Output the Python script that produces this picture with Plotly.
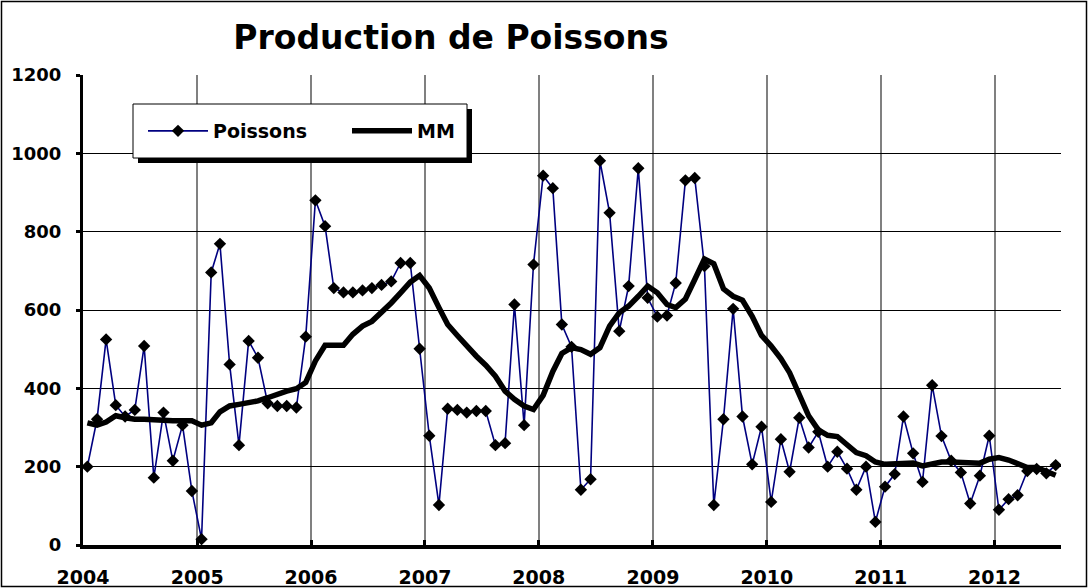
import pandas as pd
import plotly.graph_objects as go

# Production mensuelle de poissons, janvier 2004 -> juillet 2012
poissons = [
    200, 321, 525, 357, 328, 345, 508, 172, 338, 215, 306, 138,
    15, 696, 769, 461, 255, 521, 478, 362, 355, 355, 351, 532,
    880, 814, 656, 645, 645, 650, 656, 664, 673, 720, 720, 501,
    279, 102, 348, 345, 338, 342, 342, 255, 260, 614, 306, 716,
    943, 911, 563, 506, 141, 168, 981, 848, 546, 661, 962, 631,
    583, 586, 669, 931, 937, 712, 102, 321, 603, 328, 206, 302,
    110, 270, 187, 325, 249, 289, 200, 238, 195, 141, 200, 59,
    149, 181, 328, 234, 161, 408, 278, 215, 185, 106, 177, 279,
    90, 117, 127, 189, 194, 183, 204,
]

# moyenne mobile (MM)
mm = [
    312, 306, 314, 330, 325, 321, 321, 319, 318, 317, 317, 317,
    306, 312, 340, 355, 359, 362, 368, 376, 386, 393, 399, 415,
    470, 510, 510, 510, 538, 559, 571, 593, 618, 644, 671, 688,
    656, 606, 563, 535, 508, 482, 459, 431, 393, 372, 355, 346,
    382, 443, 489, 504, 499, 487, 504, 559, 593, 610, 635, 661,
    644, 614, 606, 628, 678, 730, 718, 654, 635, 625, 584, 535,
    508, 476, 440, 380, 330, 294, 280, 277, 257, 236, 228, 212,
    206, 206, 209, 209, 202, 206, 212, 212, 211, 209, 209, 219,
    223, 217, 209, 198, 198, 189, 178,
]

y_ticks = [0, 200, 400, 600, 800, 1000, 1200]

# points au milieu de chaque mois
mois = pd.date_range('2004-01-01', periods=len(poissons), freq='MS') + pd.Timedelta(days=14)

W, H = 1089, 588
ML, MR, MT, MB = 83, 28, 75, 43
PW, PH = W - ML - MR, H - MT - MB


def px(x):
    return (x - ML) / PW


def py(y):
    return (H - MB - y) / PH


FONT = 'DejaVu Sans'

fig = go.Figure()
fig.add_trace(
    go.Scatter(
        x=mois,
        y=poissons,
        mode='lines+markers',
        name='Poissons',
        line=dict(color='#000080', width=1.6),
        marker=dict(symbol='diamond', size=9.5, color='black'),
    )
)
fig.add_trace(
    go.Scatter(
        x=mois,
        y=mm,
        mode='lines',
        name='MM',
        line=dict(color='black', width=5.5),
    )
)

shapes = [
    # ombre et cadre de la légende
    dict(type='rect', xref='paper', yref='paper', layer='above',
         x0=px(138), x1=px(472), y0=py(163), y1=py(109),
         fillcolor='black', line=dict(width=0)),
    dict(type='rect', xref='paper', yref='paper', layer='above',
         x0=px(133), x1=px(467), y0=py(158), y1=py(104),
         fillcolor='white', line=dict(color='black', width=1)),
    # cadre extérieur
    dict(type='rect', xref='paper', yref='paper', layer='above',
         x0=px(1.5), x1=px(W - 2.5), y0=py(H - 1.5), y1=py(1.5),
         line=dict(color='black', width=1.5)),
]

fig.update_layout(
    width=W,
    height=H,
    template='plotly_white',
    plot_bgcolor='white',
    paper_bgcolor='white',
    margin=dict(l=ML, r=MR, t=MT, b=MB),
    title=dict(
        text='Production de Poissons',
        x=451 / W,
        xref='container',
        xanchor='center',
        y=1 - 37 / H,
        yanchor='middle',
        font=dict(family=FONT, size=33, color='black', weight='bold'),
    ),
    showlegend=True,
    legend=dict(
        orientation='h',
        x=px(143),
        y=py(131),
        xanchor='left',
        yanchor='middle',
        bgcolor='rgba(0,0,0,0)',
        borderwidth=0,
        entrywidth=129,
        entrywidthmode='pixels',
        itemwidth=60,
        font=dict(family=FONT, size=19, color='black', weight='bold'),
    ),
    shapes=shapes,
    xaxis=dict(
        type='date',
        range=['2004-01-01', '2012-08-01'],
        tick0='2004-01-01',
        dtick='M12',
        tickformat='%Y',
        showgrid=True,
        gridcolor='#808080',
        gridwidth=2,
        showline=True,
        linecolor='black',
        linewidth=4,
        ticks='inside',
        ticklen=5,
        tickwidth=3,
        tickcolor='black',
        ticklabelstandoff=12,
        zeroline=False,
        automargin=False,
        tickfont=dict(family=FONT, size=19, color='black', weight='bold'),
    ),
    yaxis=dict(
        range=[0, 1200],
        tickvals=y_ticks,
        showgrid=True,
        gridcolor='black',
        gridwidth=1,
        showline=True,
        linecolor='black',
        linewidth=3,
        ticks='outside',
        ticklen=4,
        tickwidth=3,
        tickcolor='black',
        ticklabelstandoff=11,
        zeroline=False,
        automargin=False,
        tickfont=dict(family=FONT, size=18, color='black', weight='bold'),
    ),
)

# la page ajoute une marge de 8 px autour du graphique : on la retire
fig.write_html(
    'out.html',
    config={'displayModeBar': False},
    post_script="document.body.style.margin = '0';",
)
